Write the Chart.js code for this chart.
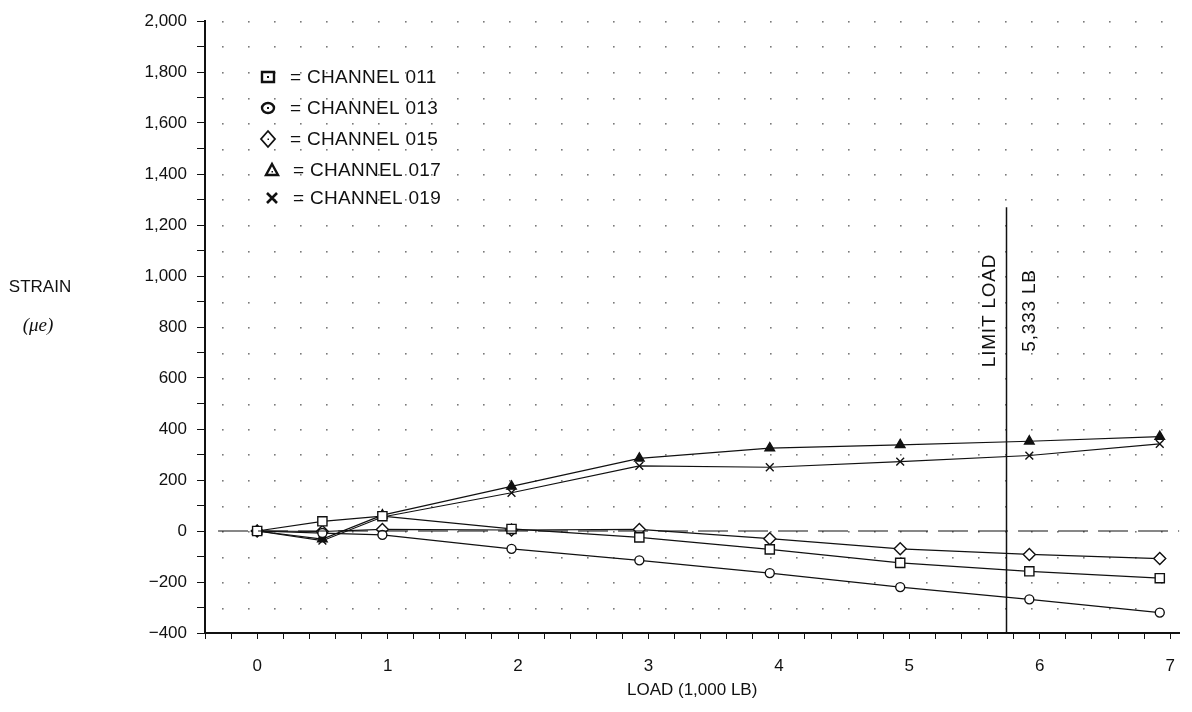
<!DOCTYPE html>
<html>
<head>
<meta charset="utf-8">
<script src="https://cdn.jsdelivr.net/npm/chart.js@4.4.1/dist/chart.umd.min.js"></script>
<style>
  html, body { margin: 0; padding: 0; background: #fff; }
  #wrap { position: relative; width: 1192px; height: 712px; }
</style>
</head>
<body>
<div id="wrap"><canvas id="strainChart" width="1192" height="712"></canvas></div>
<script>
// load steps (1,000 lb) and strain per channel
const loads = [0, 0.5, 0.96, 1.95, 2.93, 3.93, 4.93, 5.92, 6.92];
const ch011 = [0, 38, 58, 8, -25, -72, -125, -158, -185];
const ch013 = [0, -8, -15, -70, -115, -165, -220, -268, -320];
const ch015 = [0, -2, 6, 4, 6, -30, -70, -92, -108];
const ch017 = [0, -32, 62, 175, 285, 325, 338, 352, 370];
const ch019 = [0, -38, 55, 150, 255, 250, 272, 296, 342];

const channelNames = ["CHANNEL 011", "CHANNEL 013", "CHANNEL 015", "CHANNEL 017", "CHANNEL 019"];
const yLabelEvery = 200;
const limitLoad = 5.74;   // limit line position on the load axis
const limitTop = 1270;    // where the limit line stops
const limitText = ["LIMIT LOAD", "5,333 LB"];

const xMin = -0.4, xMax = 7.07, yMin = -400, yMax = 2000;
const FONT = "'Liberation Sans', Arial, Helvetica, sans-serif";
const INK = "#111";

function pts(vals) {
  return vals.map((v, i) => ({ x: loads[i], y: v }));
}

// small helper for the legend glyphs (drawn by hand, bolder than plot marks)
function legendGlyph(ctx, kind, cx, cy) {
  ctx.save();
  ctx.strokeStyle = INK;
  ctx.fillStyle = INK;
  ctx.lineWidth = 2.4;
  ctx.beginPath();
  if (kind === "square") {
    ctx.rect(cx - 6, cy - 5, 12, 10);
    ctx.stroke();
    ctx.fillRect(cx - 1, cy - 1, 2, 2);
  } else if (kind === "circle") {
    ctx.ellipse(cx, cy, 6, 5, 0, 0, Math.PI * 2);
    ctx.stroke();
    ctx.fillRect(cx - 1, cy - 1, 2, 2);
  } else if (kind === "diamond") {
    ctx.lineWidth = 1.8;
    ctx.moveTo(cx, cy - 8); ctx.lineTo(cx + 7, cy); ctx.lineTo(cx, cy + 8); ctx.lineTo(cx - 7, cy); ctx.closePath();
    ctx.stroke();
    ctx.fillRect(cx - 0.5, cy - 0.5, 1.5, 1.5);
  } else if (kind === "triangle") {
    ctx.moveTo(cx, cy - 6); ctx.lineTo(cx + 6, cy + 5); ctx.lineTo(cx - 6, cy + 5); ctx.closePath();
    ctx.stroke();
    ctx.fillRect(cx - 0.5, cy + 1, 1.5, 1.5);
  } else {
    ctx.lineWidth = 2.6;
    ctx.moveTo(cx - 5, cy - 5); ctx.lineTo(cx + 5, cy + 5);
    ctx.moveTo(cx + 5, cy - 5); ctx.lineTo(cx - 5, cy + 5);
    ctx.stroke();
  }
  ctx.restore();
}

// dotted paper grid, limit line, legend and left title
const paperDecor = {
  id: "paperDecor",
  beforeDatasetsDraw(chart) {
    const { ctx, scales: { x, y } } = chart;
    ctx.save();
    ctx.fillStyle = "#7a7a7a";
    // the dot grid sits a touch left of the printed ticks
    for (let gv = yMin + 100; gv < yMax + 1; gv += 100) {
      const py = y.getPixelForValue(gv);
      for (let k = 0; k < 40; k++) {
        const gx = -0.27 + k * 0.2;
        if (gx > xMax) break;
        const px = x.getPixelForValue(gx);
        ctx.fillRect(Math.round(px), Math.round(py), 1.6, 1.6);
      }
    }
    ctx.restore();
  },
  afterDatasetsDraw(chart) {
    const { ctx, scales: { x, y } } = chart;
    ctx.save();

    // limit load line
    const lx = Math.round(x.getPixelForValue(limitLoad)) + 0.5;
    ctx.strokeStyle = INK;
    ctx.lineWidth = 1.5;
    ctx.beginPath();
    ctx.moveTo(lx, y.getPixelForValue(limitTop));
    ctx.lineTo(lx, y.getPixelForValue(yMin));
    ctx.stroke();

    ctx.fillStyle = INK;
    ctx.font = "19px " + FONT;
    ctx.letterSpacing = "0.8px";
    ctx.textAlign = "center";
    ctx.textBaseline = "middle";
    const midY = y.getPixelForValue(865);
    ctx.save();
    ctx.translate(lx - 17, midY);
    ctx.rotate(-Math.PI / 2);
    ctx.fillText(limitText[0], 0, 0);
    ctx.restore();
    ctx.save();
    ctx.translate(lx + 23, midY);
    ctx.rotate(-Math.PI / 2);
    ctx.fillText(limitText[1], 0, 0);
    ctx.restore();

    // legend block
    const kinds = ["square", "circle", "diamond", "triangle", "cross"];
    const rowsY = [77, 108, 139, 170, 198];
    ctx.font = "19px " + FONT;
    ctx.letterSpacing = "0.3px";
    ctx.textAlign = "left";
    kinds.forEach((k, i) => {
      const gx = k === "triangle" || k === "cross" ? 272 : 268;
      legendGlyph(ctx, k, gx, rowsY[i]);
      ctx.fillText("= " + channelNames[i], k === "triangle" || k === "cross" ? 293 : 290, rowsY[i] + 1);
    });
    ctx.letterSpacing = "0px";

    // left axis title
    ctx.textAlign = "center";
    ctx.font = "17px " + FONT;
    ctx.fillText("STRAIN", 40, 287);
    ctx.font = "italic 19px 'Liberation Serif', 'DejaVu Serif', serif";
    ctx.fillText("(\u03BCe)", 38, 326);

    ctx.restore();
  }
};

function lineSet(label, vals, style, radius, filled) {
  return {
    label: label,
    data: pts(vals),
    borderColor: INK,
    borderWidth: 1.2,
    pointStyle: style,
    pointRadius: radius,
    pointBorderWidth: 1.4,
    pointBorderColor: INK,
    pointBackgroundColor: filled ? INK : "#fff",
    tension: 0
  };
}

const ctx = document.getElementById("strainChart").getContext("2d");
new Chart(ctx, {
  type: "line",
  data: {
    datasets: [
      {
        label: "zero",
        data: [{ x: -0.3, y: 0 }, { x: xMax, y: 0 }],
        borderColor: INK,
        borderWidth: 1.2,
        borderDash: [30, 10],
        pointRadius: 0
      },
      lineSet(channelNames[0], ch011, "rect", 6.5, false),
      lineSet(channelNames[1], ch013, "circle", 4.5, false),
      lineSet(channelNames[2], ch015, "rectRot", 6, false),
      lineSet(channelNames[3], ch017, "triangle", 5.5, true),
      lineSet(channelNames[4], ch019, "crossRot", 5.5, false)
    ]
  },
  options: {
    responsive: false,
    animation: false,
    layout: { padding: { top: 21, right: 0, left: 0, bottom: 0 } },
    plugins: {
      legend: { display: false },
      tooltip: { enabled: false }
    },
    scales: {
      x: {
        type: "linear",
        min: xMin,
        max: xMax,
        afterBuildTicks: (s) => {
          const t = [];
          for (let k = 0; k <= 37; k++) t.push({ value: Math.round((xMin + k * 0.2) * 10) / 10 });
          s.ticks = t;
        },
        afterFit: (s) => { s.height = 79; },
        ticks: {
          autoSkip: false,
          maxRotation: 0,
          padding: 17,
          color: INK,
          font: { family: FONT, size: 17 },
          callback: (v) => (Math.abs(v - Math.round(v)) < 1e-6 ? String(Math.round(v)) : "")
        },
        grid: { drawOnChartArea: false, drawTicks: true, tickLength: 6, color: INK, tickColor: INK },
        border: { display: true, color: INK, width: 2 },
        title: {
          display: true,
          text: "LOAD (1,000 LB)",
          color: INK,
          font: { family: FONT, size: 17 },
          padding: { top: 4, bottom: 11 }
        }
      },
      y: {
        type: "linear",
        min: yMin,
        max: yMax,
        afterFit: (s) => { s.width = 205; },
        ticks: {
          stepSize: 100,
          autoSkip: false,
          padding: 10,
          color: INK,
          font: { family: FONT, size: 17 },
          callback: (v) => {
            if (v % yLabelEvery !== 0) return "";
            const s = Math.abs(v).toLocaleString("en-US");
            return v < 0 ? "\u2212" + s : s;
          }
        },
        grid: { drawOnChartArea: false, drawTicks: true, tickLength: 8, color: INK, tickColor: INK },
        border: { display: true, color: INK, width: 2 }
      }
    }
  },
  plugins: [paperDecor]
});
</script>
</body>
</html>
